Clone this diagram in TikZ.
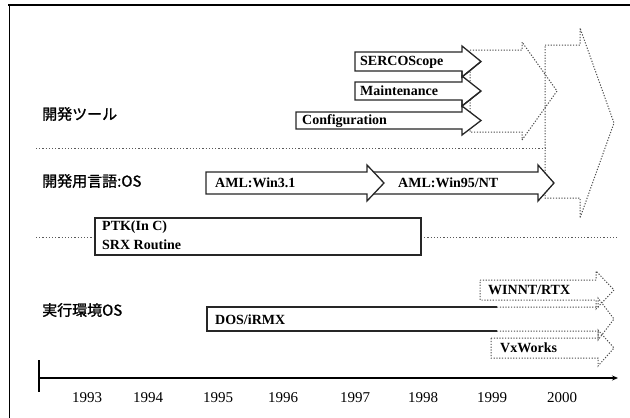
\documentclass[tikz,border=0pt]{standalone}
\usepackage{fontspec}
\setmainfont{Liberation Serif}
\newfontfamily\jpfont{Noto Sans CJK JP}[FakeBold=1.2]
\usetikzlibrary{arrows.meta}
\tikzset{
  rowlabel/.style={font=\jpfont\fontsize{15}{15}\selectfont, anchor=west, inner sep=0pt},
  boxtext/.style={font=\bfseries\fontsize{14}{14}\selectfont, anchor=west, inner sep=0pt},
  yearlabel/.style={font=\fontsize{15}{15}\selectfont, inner sep=0pt},
  solidarrow/.style={draw=black!85, fill=white, line width=1.3pt, line join=miter},
  futurearrow/.style={draw=black!70, dash pattern=on 1.2pt off 1.6pt, line width=1pt},
  sepline/.style={draw=black!65, dash pattern=on 1.2pt off 2pt, line width=0.9pt}
}
\begin{document}
\begin{tikzpicture}[x=1pt, y=-1pt, line cap=butt, >=Stealth]
		\useasboundingbox (0,0) rectangle (630,418);
		% frame
		\draw[line width=2.6pt] (8,5)--(630,5);
		\draw[line width=1pt] (9,5)--(9,418);
		% row labels
		\node[rowlabel] (tools) at (42,114) {開発ツール};
		\node[rowlabel] (lang) at (42,181) {開発用言語:OS};
		\node[rowlabel] (runtime) at (42,310) {実行環境OS};
		% separators
		\draw[sepline] (36,148)--(545,148);
		\draw[sepline] (36,237)--(95,237) (421,237)--(618,237);
		% future tools (dotted)
		\draw[futurearrow] (545,45)--(580,45)--(580,28)--(614,123)--(580,218)--(580,198)--(545,198)--cycle;
		\draw[futurearrow] (470,50)--(522,50)--(522,42)--(557,91)--(522,140)--(522,132)--(470,132)--cycle;
		% tools
		\draw[solidarrow] (355,52)--(462,52)--(462,46)--(481,61.5)--(462,77)--(462,71)--(355,71)--cycle;
		\draw[solidarrow] (355,82)--(462,82)--(462,76)--(481,91)--(462,106)--(462,100)--(355,100)--cycle;
		\draw[solidarrow] (296,112)--(462,112)--(462,106)--(481,120.5)--(462,135)--(462,129)--(296,129)--cycle;
		\draw[draw=black!85, line width=1.3pt] (462,71)--(462,77)--(481,61.5) (462,100)--(462,106)--(481,91);
		\node[boxtext] (scope) at (360,62) {SERCOScope};
		\node[boxtext] (maint) at (360,91) {Maintenance};
		\node[boxtext] (config) at (302,121) {Configuration};
		% language / OS
		\draw[solidarrow] (372,172)--(538,172)--(538,165)--(554,183)--(538,201)--(538,194)--(372,194)--cycle;
		\draw[solidarrow] (206,172)--(367,172)--(367,165)--(384,183)--(367,201)--(367,194)--(206,194)--cycle;
		\node[boxtext] (win31) at (215,183) {AML:Win3.1};
		\node[boxtext] (win95) at (398,183) {AML:Win95/NT};
		% PTK
		\draw[draw=black!85, line width=1.3pt] (95,218) rectangle (421,255);
		\node[boxtext] (ptk) at (102,227) {PTK(In C)};
		\node[boxtext] (srx) at (102,245) {SRX Routine};
		% runtime OS
		\draw[futurearrow] (480,280)--(596,280)--(596,271)--(614,290)--(596,309)--(596,300)--(480,300)--cycle;
		\draw[futurearrow] (497,307)--(598,307)--(598,298)--(614,319)--(598,340)--(598,331)--(497,331);
		\draw[futurearrow] (491,338)--(598,338)--(598,330)--(614,348)--(598,366)--(598,358)--(491,358)--cycle;
		\draw[draw=black!85, line width=1.3pt] (497,307)--(207,307)--(207,331)--(497,331);
		\node[boxtext] (dos) at (215,320) {DOS/iRMX};
		\node[boxtext] (winnt) at (488,290) {WINNT/RTX};
		\node[boxtext] (vxw) at (500,348) {VxWorks};
		% time axis
		\draw[line width=1.2pt, -{Stealth[length=6pt,width=5pt]}] (39,378)--(618,378);
		\draw[line width=1.2pt] (39,360)--(39,392);
		\foreach \yr/\xx in {1993/87,1994/148,1995/218,1996/283,1997/355,1998/423,1999/492,2000/562}
			\node[yearlabel] (y\yr) at (\xx,398) {\yr};
\end{tikzpicture}
\end{document}
